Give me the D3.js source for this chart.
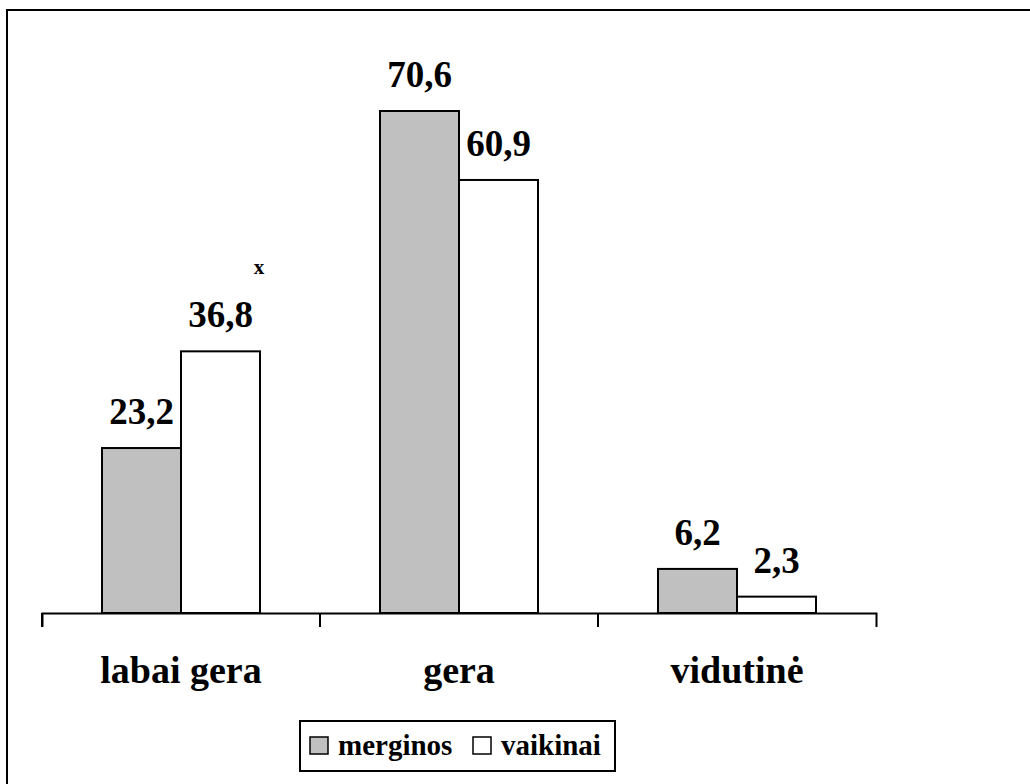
<!DOCTYPE html>
<html><head><meta charset="utf-8">
<script src="https://cdn.jsdelivr.net/npm/d3@7/dist/d3.min.js"></script>
<style>html,body{margin:0;padding:0;background:#fff;}svg{display:block;}
text{font-family:"Liberation Serif","Times New Roman",Times,"DejaVu Serif",serif;font-weight:bold;}</style>
</head><body>
<svg id="chart" width="1030" height="784"></svg>
<script>
const categories = ["labai gera", "gera", "vidutinė"];
const seriesNames = ["merginos", "vaikinai"];
const merginos = [23.2, 70.6, 6.2];
const vaikinai = [36.8, 60.9, 2.3];
const seriesColors = ["#c0c0c0", "#ffffff"];
const valueLabels = [["23,2", "70,6", "6,2"], ["36,8", "60,9", "2,3"]];

const svg = d3.select("#chart");

// outer border (right/bottom extend beyond view)
svg.append("rect").attr("x", 7).attr("y", 10).attr("width", 1040).attr("height", 800)
  .attr("fill", "none").attr("stroke", "#000").attr("stroke-width", 2);

const x0 = d3.scaleBand().domain(categories).range([42, 876]).paddingInner(0).paddingOuter(0);
const x1 = d3.scaleBand().domain(seriesNames).range([0, 158]);
const y = d3.scaleLinear().domain([0, 80]).range([613, 613 - 80 * 502 / 70.6]);

const data = [merginos, vaikinai];
const groupOffset = (x0.bandwidth() - 158) / 2;

categories.forEach((c, i) => {
  seriesNames.forEach((s, j) => {
    const v = data[j][i];
    const bx = x0(c) + groupOffset + x1(s);
    svg.append("rect")
      .attr("x", bx).attr("y", y(v))
      .attr("width", x1.bandwidth()).attr("height", y(0) - y(v))
      .attr("fill", seriesColors[j]).attr("stroke", "#000").attr("stroke-width", 2);
    svg.append("text")
      .attr("x", bx + x1.bandwidth() / 2).attr("y", y(v) - 24)
      .attr("text-anchor", "middle")
      .attr("font-size", 37)
      .text(valueLabels[j][i]);
  });
});

// significance mark
svg.append("text")
  .attr("x", x0("labai gera") + groupOffset + x1("vaikinai") + x1.bandwidth() - 1)
  .attr("y", y(vaikinai[0]) - 77)
  .attr("text-anchor", "middle")
  .attr("font-size", 21)
  .text("x");

// x axis
const axis = d3.axisBottom(x0).tickSizeInner(14).tickSizeOuter(14).tickFormat("");
const ag = svg.append("g").attr("transform", "translate(0,613)").call(axis);
ag.select(".domain").attr("stroke", "#000").attr("stroke-width", 2);
ag.selectAll(".tick line")
  .attr("transform", "translate(" + (-x0.bandwidth() / 2) + ",0)")
  .attr("stroke", "#000").attr("stroke-width", 2);
ag.selectAll(".tick text").remove();

categories.forEach(c => {
  svg.append("text")
    .attr("x", x0(c) + x0.bandwidth() / 2).attr("y", 683)
    .attr("text-anchor", "middle")
    .attr("font-size", 38)
    .text(c);
});

// legend
const lg = svg.append("g");
lg.append("rect").attr("x", 300).attr("y", 721).attr("width", 315).attr("height", 50)
  .attr("fill", "#fff").attr("stroke", "#000").attr("stroke-width", 2);
const legendX = [310, 473];
seriesNames.forEach((s, j) => {
  lg.append("rect").attr("x", legendX[j]).attr("y", 737).attr("width", 18).attr("height", 17)
    .attr("fill", seriesColors[j]).attr("stroke", "#000").attr("stroke-width", 1.5);
  lg.append("text").attr("x", legendX[j] + 28).attr("y", 755)
    .attr("font-size", 29)
    .text(s);
});
</script>
</body></html>
